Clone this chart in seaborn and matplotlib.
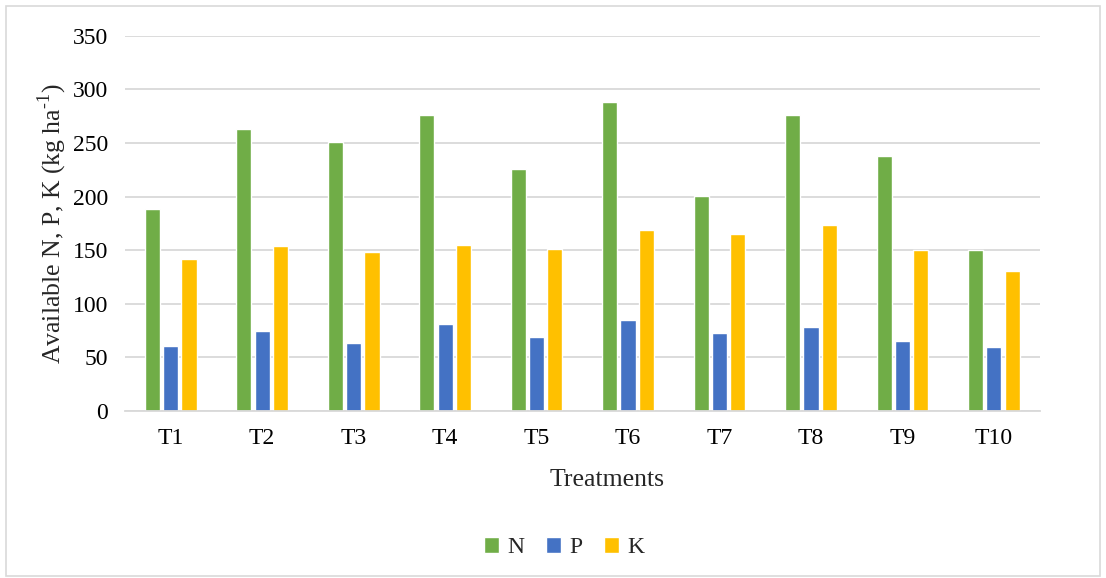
import pandas as pd
import seaborn as sns
import matplotlib.pyplot as plt
from matplotlib.patches import Rectangle

# data
treatments = ['T1', 'T2', 'T3', 'T4', 'T5', 'T6', 'T7', 'T8', 'T9', 'T10']
n_vals = [188, 263, 251, 276, 226, 288, 200.5, 276, 238, 150.5]
p_vals = [61, 74.5, 63.5, 81, 69, 85, 72.5, 78, 65, 59.5]
k_vals = [142, 154, 148, 155, 151, 168.5, 165, 173.5, 150, 130.5]
nutrients = ['N', 'P', 'K']
colors = ['#70AD47', '#4472C4', '#FFC000']

df = pd.DataFrame({'Treatment': treatments, 'N': n_vals, 'P': p_vals, 'K': k_vals})
df = df.melt(id_vars='Treatment', value_vars=nutrients, var_name='Nutrient', value_name='Value')

sns.set_style('white')
plt.rcParams['font.family'] = ['Liberation Serif', 'DejaVu Serif']
plt.rcParams['mathtext.fontset'] = 'custom'
plt.rcParams['mathtext.rm'] = 'Liberation Serif'

fig = plt.figure(figsize=(11.06, 5.78), dpi=100)
ax = fig.add_axes([0.113, 0.289, 0.827, 0.649])

sns.barplot(data=df, x='Treatment', y='Value', hue='Nutrient', hue_order=nutrients,
            palette=colors, width=0.6, gap=0.17, saturation=1, ax=ax, legend=True)

ax.set_ylim(0, 350)
ax.set_yticks(range(0, 351, 50))
ax.yaxis.grid(True, color='#d9d9d9', linewidth=1.3)
ax.set_axisbelow(True)
for s in ['left', 'right', 'top']:
    ax.spines[s].set_visible(False)
ax.spines['bottom'].set_color('#d9d9d9')
ax.spines['bottom'].set_linewidth(1.3)
ax.tick_params(axis='both', length=0, labelsize=17, colors='black')
ax.tick_params(axis='y', pad=12)
ax.tick_params(axis='x', pad=12)

ax.set_xlabel('Treatments', fontsize=18.5, labelpad=15, x=0.527)
ax.set_ylabel(r'Available N, P, K (kg ha$^{\text{-1}}$)', fontsize=18.5)
ax.yaxis.set_label_coords(-0.061, 0.5)

ax.legend(loc='center', bbox_to_anchor=(0.48, -0.365), ncol=3, frameon=False,
          fontsize=17, handlelength=0.65, handleheight=0.65, handletextpad=0.35,
          columnspacing=0.9)

# outer chart border
fig.patches.append(Rectangle((0.005, 0.004), 0.99, 0.985, transform=fig.transFigure,
                             fill=False, edgecolor='#d9d9d9', linewidth=1.2))

plt.savefig('out.png', dpi=100)
